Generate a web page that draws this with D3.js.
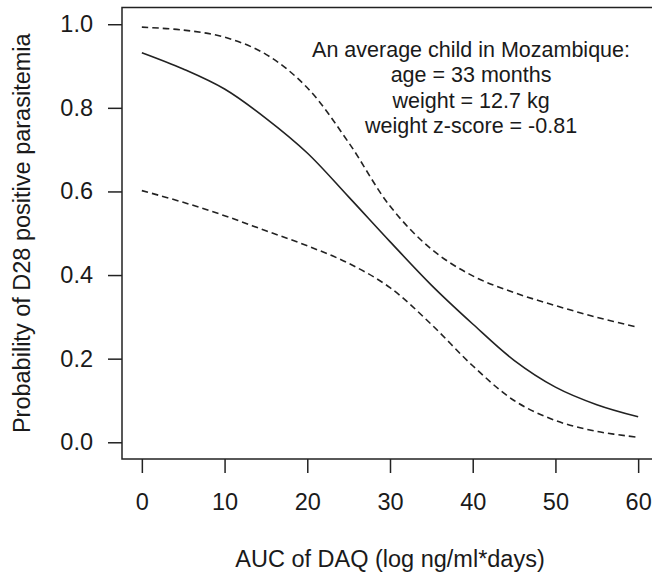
<!DOCTYPE html>
<html>
<head>
<meta charset="utf-8">
<script src="https://cdn.jsdelivr.net/npm/d3@7"></script>
<style>
  html, body { margin: 0; padding: 0; background: #fff; }
  svg { display: block; }
  text { font-family: "Liberation Sans", Arial, sans-serif; fill: #1a1a1a; }
</style>
</head>
<body>
<svg id="chart" width="652" height="577"></svg>
<script>
// ---- data ----
const auc      = [0, 5, 10, 15, 20, 25, 30, 35, 40, 45, 50, 55, 60];
const fitProb  = [0.932, 0.893, 0.845, 0.775, 0.692, 0.587, 0.480, 0.376, 0.283, 0.196, 0.132, 0.090, 0.061];
const upperCI  = [0.993, 0.986, 0.969, 0.928, 0.848, 0.717, 0.565, 0.462, 0.398, 0.358, 0.327, 0.299, 0.275];
const lowerCI  = [0.602, 0.574, 0.542, 0.506, 0.470, 0.428, 0.370, 0.282, 0.183, 0.100, 0.052, 0.026, 0.012];
const xTicks   = [0, 10, 20, 30, 40, 50, 60];
const yTicks   = [0, 0.2, 0.4, 0.6, 0.8, 1.0];
const xTitle   = "AUC of DAQ (log ng/ml*days)";
const yTitle   = "Probability of D28 positive parasitemia";
const noteLines = ["An average child in Mozambique:", "age = 33 months", "weight = 12.7 kg", "weight z-score = -0.81"];

// ---- layout ----
const svg = d3.select("#chart");
const pLeft = 122, pRight = 658, pTop = 7.5, pBottom = 459;
const FS = 23.5, NOTE_FS = 21.5;

const x = d3.scaleLinear().domain([-2.4, 62.4]).range([pLeft, pRight]);
const y = d3.scaleLinear().domain([-0.04, 1.04]).range([pBottom, pTop]);

// box (right side is outside the picture)
svg.append("rect")
  .attr("x", pLeft).attr("y", pTop)
  .attr("width", pRight - pLeft).attr("height", pBottom - pTop)
  .attr("fill", "none").attr("stroke", "#222").attr("stroke-width", 1.5);

// y axis
const yAxis = svg.append("g").attr("transform", `translate(${pLeft},0)`)
  .call(d3.axisLeft(y).tickValues(yTicks).tickFormat(d3.format(".1f")).tickSize(14).tickPadding(15));
yAxis.select(".domain").remove();
yAxis.selectAll("line").attr("stroke", "#222").attr("stroke-width", 1.5);
yAxis.selectAll("text").style("font-size", FS + "px").style("font-family", "Liberation Sans, Arial, sans-serif").attr("fill", "#1a1a1a");

// x axis
const xAxis = svg.append("g").attr("transform", `translate(0,${pBottom})`)
  .call(d3.axisBottom(x).tickValues(xTicks).tickFormat(d3.format("d")).tickSize(14).tickPadding(20));
xAxis.select(".domain").remove();
xAxis.selectAll("line").attr("stroke", "#222").attr("stroke-width", 1.5);
xAxis.selectAll("text").style("font-size", FS + "px").style("font-family", "Liberation Sans, Arial, sans-serif").attr("fill", "#1a1a1a");

// axis titles
svg.append("text")
  .attr("x", (pLeft + pRight) / 2).attr("y", 567)
  .attr("text-anchor", "middle").style("font-size", FS + "px")
  .text(xTitle);
svg.append("text")
  .attr("transform", `translate(30,${(pTop + pBottom) / 2}) rotate(-90)`)
  .attr("text-anchor", "middle").style("font-size", FS + "px")
  .text(yTitle);

// curves
const line = d3.line().curve(d3.curveCatmullRom.alpha(0.5))
  .x(d => x(d[0])).y(d => y(d[1]));
const curves = svg.append("g");
function draw(vals, dashed) {
  curves.append("path")
    .attr("d", line(auc.map((a, i) => [a, vals[i]])))
    .attr("fill", "none").attr("stroke", "#222").attr("stroke-width", 1.6)
    .attr("stroke-dasharray", dashed ? "6.5,4" : null);
}
draw(upperCI, true);
draw(fitProb, false);
draw(lowerCI, true);

// annotation
const note = svg.append("text").attr("text-anchor", "middle").style("font-size", NOTE_FS + "px");
noteLines.forEach((t, i) => {
  note.append("tspan").attr("x", x(39.8)).attr("y", 57 + i * 25.4).text(t);
});
</script>
</body>
</html>
